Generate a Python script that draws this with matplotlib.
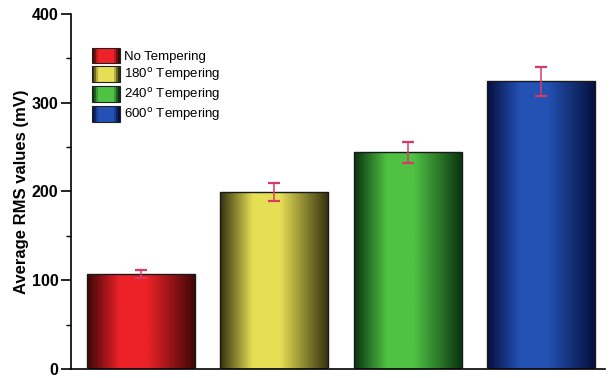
import numpy as np
import matplotlib.pyplot as plt
from matplotlib.colors import LinearSegmentedColormap
from matplotlib.patches import Rectangle
from matplotlib.legend_handler import HandlerPatch

plt.rcParams['font.family'] = ['Liberation Sans', 'DejaVu Sans']

labels = ['No Tempering', '180$^{\\rm o}$ Tempering', '240$^{\\rm o}$ Tempering', '600$^{\\rm o}$ Tempering']
values = [107, 199, 244, 324]
errors = [4, 10, 12, 16]
bright = ['#ec2228', '#e6df55', '#4fc244', '#2352b4']
dark = ['#3e0606', '#34300f', '#08330f', '#050f3c']


def grad_cmap(c_dark, c_bright):
    return LinearSegmentedColormap.from_list(
        'g', [(0, c_dark), (0.3, c_bright), (0.55, c_bright), (1, c_dark)], N=256)


fig, ax = plt.subplots(figsize=(6.11, 3.78), dpi=100)
fig.subplots_adjust(left=0.116, right=0.99, bottom=0.024, top=0.963)

x = np.arange(len(values))
bars = ax.bar(x, values, width=0.81, color='none', edgecolor='#1a1a1a', linewidth=1.0, zorder=3)

# gradient fill inside each bar
ramp = np.linspace(0, 1, 256).reshape(1, -1)
for b, cd, cb in zip(bars, dark, bright):
    x0, w, h = b.get_x(), b.get_width(), b.get_height()
    im = ax.imshow(ramp, cmap=grad_cmap(cd, cb), aspect='auto',
                   extent=(x0, x0 + w, 0, h), zorder=2, interpolation='bilinear')
    im.set_clip_path(b)

ax.errorbar(x, values, yerr=errors, fmt='none', ecolor='#d83a64', elinewidth=1.1,
            capsize=4.5, capthick=1.6, zorder=4)

ax.set_xlim(-0.525, 3.48)
ax.set_ylim(0, 400)
ax.set_yticks([0, 100, 200, 300, 400])
ax.set_yticks([50, 150, 250, 350], minor=True)
ax.set_xticks([])
ax.spines['top'].set_visible(False)
ax.spines['right'].set_visible(False)
ax.spines['left'].set_linewidth(1.2)
ax.spines['bottom'].set_linewidth(1.2)
ax.tick_params(axis='y', which='major', length=7, width=1.2, labelsize=11.5, pad=2)
ax.tick_params(axis='y', which='minor', length=3.5, width=1.0)
for t in ax.get_yticklabels():
    t.set_fontweight('bold')
ax.set_ylabel('Average RMS values (mV)', fontsize=12, fontweight='bold', labelpad=2)


class GradHandler(HandlerPatch):
    def __init__(self, cd, cb):
        super().__init__()
        self.cd, self.cb = cd, cb

    def create_artists(self, legend, orig_handle, xdescent, ydescent, width, height, fontsize, trans):
        cmap = LinearSegmentedColormap.from_list(
            'h', [(0, self.cd), (0.2, self.cb), (0.8, self.cb), (1, self.cd)], N=64)
        n = 14
        arts = []
        for i in range(n):
            r = Rectangle((-xdescent + width * i / n, -ydescent), width / n + 0.3, height,
                          facecolor=cmap(i / (n - 1)), edgecolor='none', transform=trans)
            arts.append(r)
        arts.append(Rectangle((-xdescent, -ydescent), width, height, facecolor='none',
                              edgecolor='#222222', linewidth=0.8, transform=trans))
        return arts


handles = [Rectangle((0, 0), 1, 1) for _ in labels]
hmap = {h: GradHandler(cd, cb) for h, cd, cb in zip(handles, dark, bright)}
ax.legend(handles, labels, handler_map=hmap, loc='upper left', bbox_to_anchor=(0.03, 0.92),
          frameon=False, fontsize=9.5, handlelength=2.1, handleheight=1.45,
          handletextpad=0.3, labelspacing=0.2, borderaxespad=0)

fig.savefig('out.png', dpi=100)
